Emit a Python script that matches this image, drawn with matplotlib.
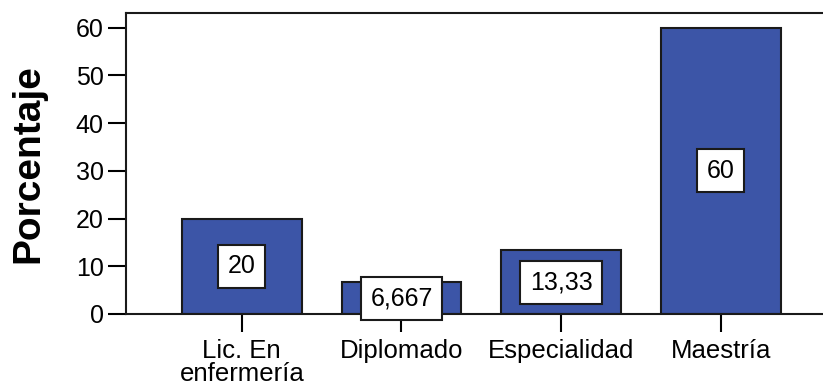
import matplotlib.pyplot as plt

plt.rcParams['font.family'] = ['Liberation Sans', 'DejaVu Sans']

categorias = ['Lic. En\nenfermería', 'Diplomado', 'Especialidad', 'Maestría']
porcentajes = [20, 6.667, 13.33, 60]
etiquetas = ['20', '6,667', '13,33', '60']

fig = plt.figure(figsize=(8.23, 3.92), dpi=100)
ax = fig.add_axes([0.1531, 0.199, 0.8469, 0.768])

x = range(len(categorias))
ax.bar(x, porcentajes, width=0.75, color='#3C55A7', edgecolor='#1a1a1a', linewidth=1.5, zorder=2)

# etiqueta con caja blanca a la mitad de cada barra
for xi, val, txt in zip(x, porcentajes, etiquetas):
    ax.text(xi, val / 2, txt, ha='center', va='center', fontsize=18, zorder=3,
            bbox=dict(boxstyle='square,pad=0.38', facecolor='white', edgecolor='#1a1a1a', linewidth=1.5))

ax.set_xlim(-0.725, 3.64)
ax.set_ylim(0, 63.1)
ax.set_yticks([0, 10, 20, 30, 40, 50, 60])
ax.set_xticks(list(x))
ax.set_xticklabels(categorias, linespacing=0.95)

ax.spines['right'].set_visible(False)
for s in ['left', 'top', 'bottom']:
    ax.spines[s].set_linewidth(1.5)
    ax.spines[s].set_color('#1a1a1a')

ax.tick_params(axis='y', direction='out', length=13, width=1.5, labelsize=18, pad=3)
ax.tick_params(axis='x', direction='out', length=13, width=1.5, labelsize=18.5, pad=5)

ax.set_ylabel('Porcentaje', fontsize=28, fontweight='bold', va='center')
ax.yaxis.set_label_coords(-0.1406, 0.5)

fig.savefig('out.png', dpi=100)
